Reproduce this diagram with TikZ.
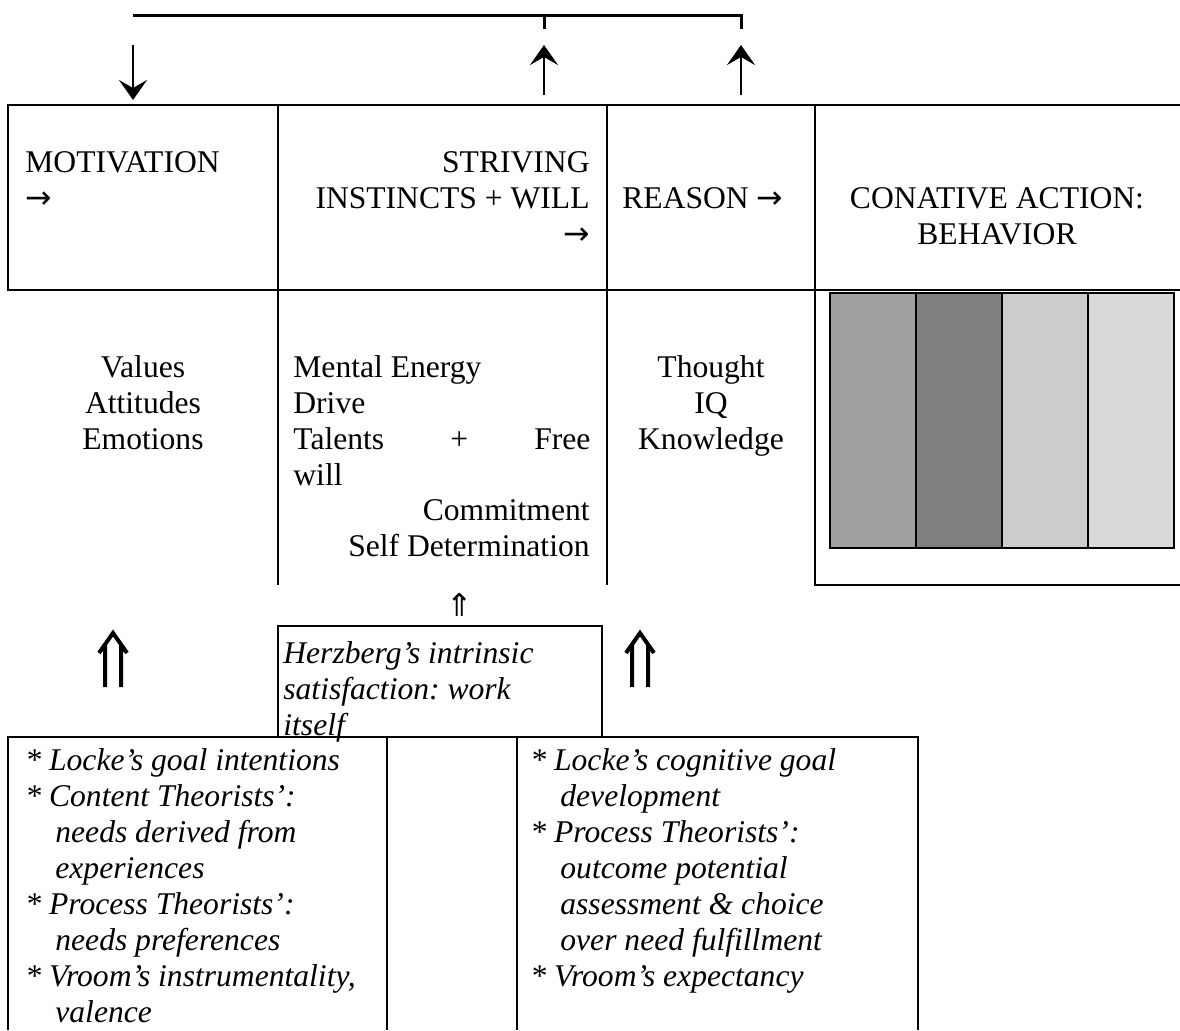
\documentclass[tikz,border=0pt]{standalone}
\usepackage{fontspec}
\setmainfont{Liberation Serif}
\newfontfamily\symfont{DejaVu Sans}
\usetikzlibrary{arrows.meta}
\newcommand\goright{{\symfont →}}
\newcommand\dblup{{\symfont ⇑}}
\definecolor{barA}{HTML}{A0A0A0}
\definecolor{barB}{HTML}{808080}
\definecolor{barC}{HTML}{CCCCCC}
\definecolor{barD}{HTML}{D9D9D9}
\begin{document}
\begin{tikzpicture}[x=0.5pt,y=-0.5pt,
  txt/.style={inner sep=0pt,font=\fontsize{15.8}{18}\selectfont\frenchspacing},
  itxt/.style={inner sep=0pt,font=\fontsize{15.8}{18}\selectfont\itshape\frenchspacing},
  frame/.style={line width=1pt},
  feed/.style={line width=1.3pt,-{Stealth[length=10pt,width=14pt,inset=4pt]}},
  bigup/.style={line width=2pt}]
  \useasboundingbox (0,0) rectangle (1180,1030);
  % feedback bracket on top
  \coordinate (fb-left) at (133,15);
  \coordinate (fb-mid) at (544,15);
  \coordinate (fb-right) at (741,15);
  \coordinate (fb-midend) at (544,29);
  \coordinate (fb-rightend) at (741,29);
  \draw[line width=1.5pt] (fb-left) -- (fb-right) -- (fb-rightend);
  \draw[line width=1.5pt] (fb-mid) -- (fb-midend);
  \coordinate (mot-top) at (133,45);
  \coordinate (mot-in) at (133,100);
  \coordinate (will-out) at (544,95);
  \coordinate (will-top) at (544,45);
  \coordinate (reas-out) at (741,95);
  \coordinate (reas-top) at (741,45);
  \draw[feed] (mot-top) -- (mot-in);
  \draw[feed] (will-out) -- (will-top);
  \draw[feed] (reas-out) -- (reas-top);
  % table frame
  \draw[frame] (1180,105) -- (8,105) -- (8,290) -- (1180,290);
  \draw[frame] (278,105) -- (278,585);
  \draw[frame] (607,105) -- (607,585);
  \draw[frame] (815,105) -- (815,585) -- (1180,585);
  % header cells
  \node[txt,anchor=north west,align=left] (motiv) at (25,151) {MOTIVATION\\\goright};
  \node[txt,anchor=north east,align=right] (striv) at (590,151) {STRIVING\\INSTINCTS + WILL\\\goright};
  \node[txt,anchor=north west] (reason) at (622,187) {REASON \goright};
  \node[txt,anchor=north,align=center] (conat) at (997,187) {CONATIVE ACTION:\\BEHAVIOR};
  % content cells
  \node[txt,anchor=north,align=center] (values) at (143,355) {Values\\Attitudes\\Emotions};
  \node[txt,anchor=north west,align=left] (energy) at (293,355)
    {Mental Energy\\Drive\\\makebox[148.5pt][s]{Talents + Free}\\will};
  \node[txt,anchor=north east,align=right] (commit) at (590,499) {Commitment\\Self Determination};
  \node[txt,anchor=north,align=center] (thought) at (711,355) {Thought\\IQ\\Knowledge};
  % behavior bars
  \foreach \xa/\col in {830/barA,916/barB,1002/barC,1088/barD}
    \filldraw[fill=\col,line width=1pt] (\xa,293) rectangle ++(86,255);
  \draw[line width=1.3pt] (830,293) rectangle (1174,548);
  % double arrows
  \node[txt] (up-mid) at (460,605) {\dblup};
  \foreach \xc in {113,640}
    \draw[bigup] (\xc-8,687) -- (\xc-8,644) (\xc+8,687) -- (\xc+8,644)
                 (\xc-14,653) -- (\xc,633) -- (\xc+14,653);
  % Herzberg box
  \draw[frame] (278,737) -- (278,626) -- (602,626) -- (602,737);
  \node[itxt,anchor=north west,align=left] (herz) at (283,641)
    {Herzberg's intrinsic\\satisfaction: work\\itself};
  % theories table
  \draw[frame] (8,1030) -- (8,737) -- (918,737) -- (918,1030);
  \draw[frame] (387,737) -- (387,1030);
  \draw[frame] (517,737) -- (517,1030);
  \node[itxt,anchor=north west,align=left] (content) at (25,748)
    {* Locke's goal intentions\\* Content Theorists':\\\hspace*{15pt}needs derived from\\
     \hspace*{15pt}experiences\\* Process Theorists':\\\hspace*{15pt}needs preferences\\
     * Vroom's instrumentality,\\\hspace*{15pt}valence};
  \node[itxt,anchor=north west,align=left] (process) at (530,748)
    {* Locke's cognitive goal\\\hspace*{15pt}development\\* Process Theorists':\\
     \hspace*{15pt}outcome potential\\\hspace*{15pt}assessment \& choice\\
     \hspace*{15pt}over need fulfillment\\* Vroom's expectancy};
\end{tikzpicture}
\end{document}
